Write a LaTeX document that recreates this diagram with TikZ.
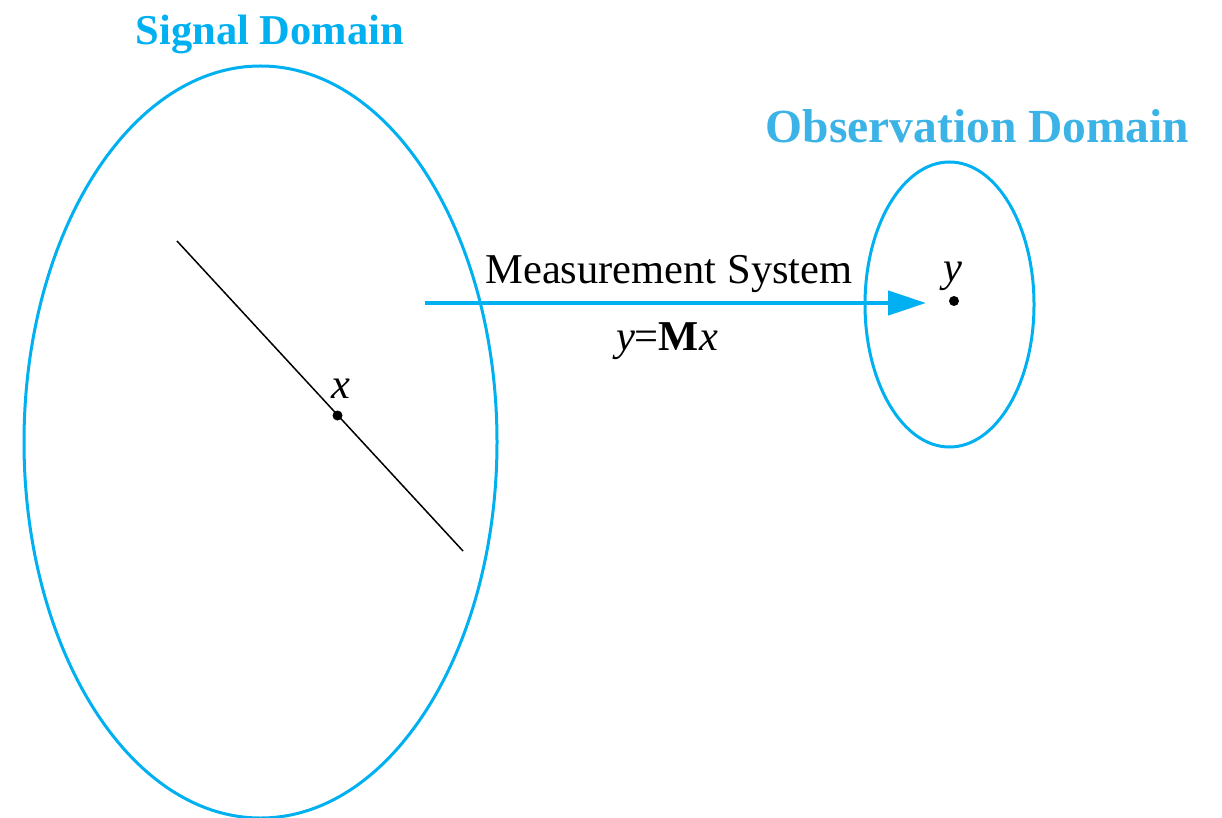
\documentclass[tikz,border=0pt]{standalone}
\usepackage{fontspec}
\setmainfont{Liberation Serif}
\usetikzlibrary{arrows.meta}
\definecolor{sigblue}{HTML}{00B0F0}
\definecolor{obsblue}{HTML}{3BB3E6}
\tikzset{
  domainring/.style={draw=sigblue, line width=3pt},
  titletext/.style={anchor=base, inner sep=0pt, font=\rmfamily\bfseries\fontsize{42.5}{48}\selectfont},
  lbltext/.style={anchor=base, inner sep=0pt, font=\rmfamily\fontsize{42.5}{48}\selectfont},
  dotpoint/.style={circle, fill=black, inner sep=0pt, minimum size=10pt},
  maparrow/.style={draw=sigblue, line width=4.5pt, -{Triangle[length=38pt, width=24pt]}}
}
\begin{document}
\begin{tikzpicture}[x=1pt, y=-1pt]
\useasboundingbox (0,0) rectangle (1222,818);
% domains
\draw[domainring] (260.5,442) ellipse [x radius=236.5pt, y radius=376pt];
\draw[domainring] (949.5,304.5) ellipse [x radius=84.5pt, y radius=142.5pt];
% titles
\node[titletext, text=sigblue] (sigtitle) at (270,45) {Signal Domain};
\node[titletext, text=obsblue, font=\rmfamily\bfseries\fontsize{47.5}{54}\selectfont] (obstitle) at (977.5,143) {Observation Domain};
% signal line
\coordinate (la) at (177,241);
\coordinate (lb) at (463,551);
\draw[line width=1.5pt] (la) -- (lb);
\node[dotpoint] (xdot) at (337.5,415.5) {};
\node[lbltext] (xlbl) at (341,398) {\textit{x}};
% observation point
\node[dotpoint] (ydot) at (954,301) {};
\node[lbltext] (ylbl) at (953,281) {\textit{y}};
% mapping arrow
\coordinate (as) at (425,303);
\coordinate (ae) at (926,303);
\draw[maparrow] (as) -- (ae);
\node[lbltext] (mlbl) at (669,283) {Measurement System};
\node[lbltext] (eqlbl) at (667,350) {\textit{y}=\textbf{M}\textit{x}};
\end{tikzpicture}
\end{document}
